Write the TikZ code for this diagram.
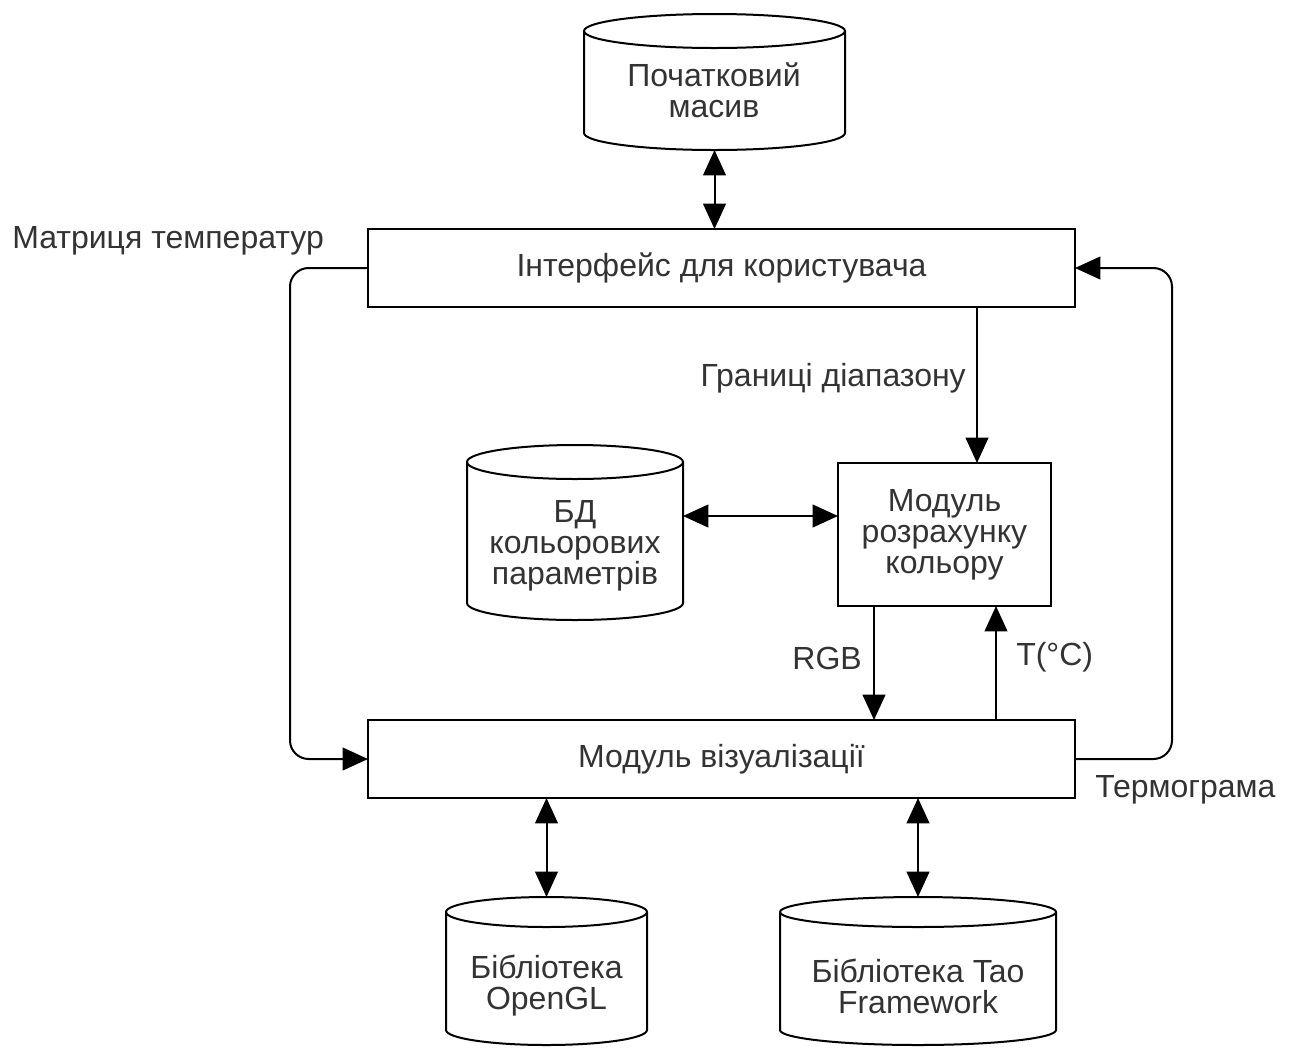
\documentclass[tikz,border=0pt]{standalone}
\usepackage{fontspec}
\setmainfont{Liberation Sans}
\usetikzlibrary{arrows.meta,calc}
\definecolor{txt}{HTML}{333333}
\tikzset{
  line/.style={draw=black, line width=1.5pt},
  arr/.style={line, -{Triangle[length=19pt,width=17pt]}},
  darr/.style={line, {Triangle[length=19pt,width=17pt]}-{Triangle[length=19pt,width=17pt]}},
  box/.style={line, fill=white, inner sep=0pt, outer sep=0pt, align=center, text=txt, font=\fontsize{24}{23.25}\selectfont},
  cylbox/.style={inner sep=0pt, outer sep=0pt},
  txtn/.style={inner sep=0pt, align=center, text=txt, font=\fontsize{24}{23.25}\selectfont},
}
% name, cx, cy, w, h, ry (all px)
\newcommand\mycyl[6]{%
  \node[cylbox, minimum width=#4*0.75pt, minimum height=#5*0.75pt] (#1) at (#2,#3) {};
  \draw[line, fill=white] ($(#1.north west)+(0,#6)$) -- ($(#1.south west)+(0,-#6)$)
     arc[start angle=180, end angle=360, x radius=#4*0.375pt, y radius=#6*0.75pt]
     -- ($(#1.north east)+(0,#6)$)
     arc[start angle=0, end angle=180, x radius=#4*0.375pt, y radius=#6*0.75pt] -- cycle;
  \draw[line] ($(#1.north west)+(0,#6)$)
     arc[start angle=180, end angle=360, x radius=#4*0.375pt, y radius=#6*0.75pt];
}
\begin{document}
\begin{tikzpicture}[x=0.75pt, y=-0.75pt]
\path[use as bounding box] (0,0) rectangle (1289,1047);
\clip (0,0) rectangle (1289,1047);

% cylinders
\mycyl{c1}{714.5}{82}{261}{136}{17}
\node[txtn] (c1t) at (714,90) {Початковий\\масив};
\mycyl{bd}{575}{532.5}{216}{175}{17}
\node[txtn] (bdt) at (575,546) {БД\\кольорових\\параметрів};
\mycyl{gl}{546.5}{971}{201}{148}{15}
\node[txtn] (glt) at (546.5,986) {Бібліотека\\OpenGL};
\mycyl{tao}{918}{971}{276}{148}{15}
\node[txtn] (taot) at (918,986) {Бібліотека Tao\\Framework};

% boxes
\node[box, minimum width=707*0.75pt, minimum height=78*0.75pt] (iface) at (721.5,268) {Інтерфейс для користувача};
\node[box, minimum width=707*0.75pt, minimum height=78*0.75pt] (vis) at (721.5,759) {Модуль візуалізації};
\node[box, minimum width=213*0.75pt, minimum height=143*0.75pt] (mod) at (944.5,534.5) {Модуль\\розрахунку\\кольору};

% connectors
\draw[darr] (c1.south) -- (c1.south |- iface.north);
\draw[darr] (vis.south -| gl.north) -- (gl.north);
\draw[darr] (vis.south -| tao.north) -- (tao.north);
\draw[darr] (bd.east |- 0,516) -- (mod.west |- 0,516);

\coordinate (gx) at (977,0);
\draw[arr] (iface.south -| gx) -- (mod.north -| gx);
\coordinate (rx) at (874,0);
\draw[arr] (mod.south -| rx) -- (vis.north -| rx);
\coordinate (tx) at (996,0);
\draw[arr] (vis.north -| tx) -- (mod.south -| tx);

\coordinate (lx) at (290,0);
\draw[arr, rounded corners=14pt] (iface.west) -- (iface.west -| lx) -- (vis.west -| lx) -- (vis.west);
\coordinate (rgx) at (1172,0);
\draw[arr, rounded corners=14pt] (vis.east) -- (vis.east -| rgx) -- (iface.east -| rgx) -- (iface.east);

% labels
\node[txtn, anchor=west] (lm) at (12,241) {Матриця температур};
\node[txtn, anchor=east] (lg) at (966,378) {Границі діапазону};
\node[txtn, anchor=east] (lr) at (862,658) {RGB};
\node[txtn, anchor=west] (lt) at (1016,657) {T(°C)};
\node[txtn, anchor=west] (lterm) at (1095,790) {Термограма};
\end{tikzpicture}
\end{document}
